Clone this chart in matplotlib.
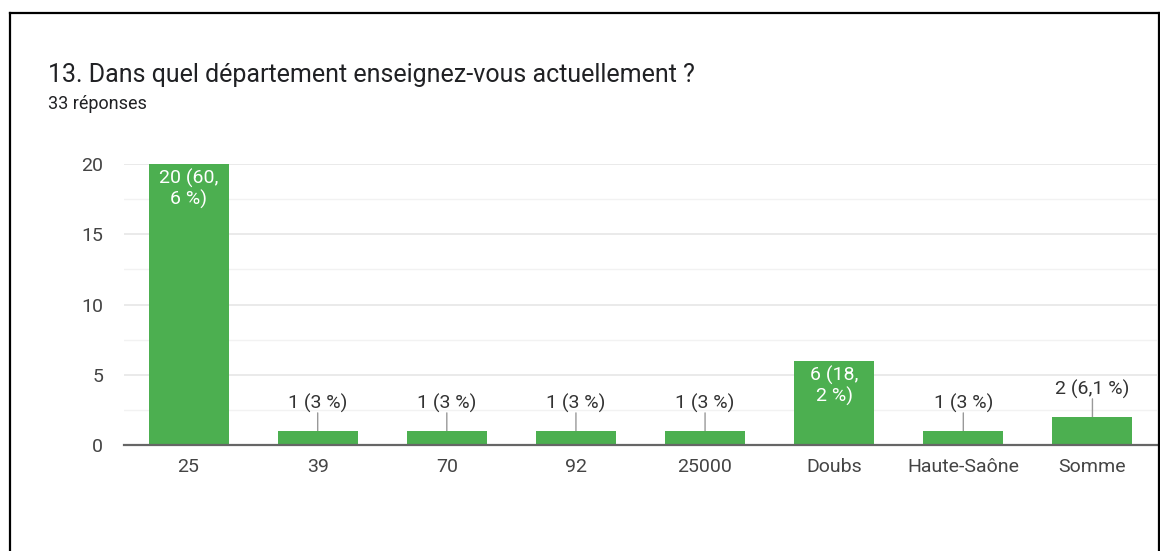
import numpy as np
import matplotlib.pyplot as plt
from matplotlib.lines import Line2D

plt.rcParams['font.family'] = ['Roboto', 'DejaVu Sans']

# données
categories = ["25", "39", "70", "92", "25000", "Doubs", "Haute-Saône", "Somme"]
values = [20, 1, 1, 1, 1, 6, 1, 2]
bar_labels = ["20 (60,\n6 %)", "1 (3 %)", "1 (3 %)", "1 (3 %)", "1 (3 %)",
              "6 (18,\n2 %)", "1 (3 %)", "2 (6,1 %)"]

title = "13. Dans quel département enseignez-vous actuellement ?"
subtitle = "33 réponses"

green = "#4caf50"

fig = plt.figure(figsize=(11.6, 5.51), dpi=100)
ax = fig.add_axes([124 / 1160, 106 / 551, 1033 / 1160, 281 / 551])

x = np.arange(len(categories))
ax.bar(x, values, width=0.62, color=green, zorder=3)

ax.set_xlim(-0.5, len(categories) - 0.5)
ax.set_ylim(0, 20)
ax.set_yticks([0, 5, 10, 15, 20])
ax.set_yticks([2.5, 7.5, 12.5, 17.5], minor=True)
ax.set_xticks(x)
ax.set_xticklabels(categories)

ax.grid(axis='y', which='major', color='#e6e6e6', linewidth=1.2, zorder=0)
ax.grid(axis='y', which='minor', color='#f2f2f2', linewidth=1.0, zorder=0)
for s in ['top', 'right', 'left']:
    ax.spines[s].set_visible(False)
ax.spines['bottom'].set_color('#666666')
ax.spines['bottom'].set_linewidth(1.6)
ax.spines['bottom'].set_zorder(4)

ax.tick_params(axis='both', which='both', length=0, labelsize=14, colors='#444444')
ax.tick_params(axis='y', pad=15)
ax.tick_params(axis='x', pad=9)

# étiquettes des barres
for xi, v, lab in zip(x, values, bar_labels):
    if v >= 5:
        ax.annotate(lab, (xi, v), xytext=(0, -3.5), textcoords='offset points',
                    ha='center', va='top', color='white', fontsize=14,
                    linespacing=1.15, zorder=5)
    else:
        ax.annotate(lab, (xi, v), xytext=(0, 19.5), textcoords='offset points',
                    ha='center', va='center', color='#333333', fontsize=14,
                    zorder=5)
        ax.annotate('', xy=(xi, v), xytext=(0, 13), textcoords='offset points',
                    arrowprops=dict(arrowstyle='-', color='#999999', lw=1.0,
                                    shrinkA=0, shrinkB=0), zorder=2)

fig.text(48 / 1160, 1 - 75 / 551, title, fontsize=18, color='#202124',
         ha='left', va='center')
fig.text(48 / 1160, 1 - 104 / 551, subtitle, fontsize=13, color='#202124',
         ha='left', va='center')

# cadre
lw = 1.6
fig.add_artist(Line2D([10 / 1160, 10 / 1160], [0, 1 - 13 / 551], color='black', lw=lw))
fig.add_artist(Line2D([10 / 1160, 1158.5 / 1160], [1 - 13 / 551, 1 - 13 / 551], color='black', lw=lw))
fig.add_artist(Line2D([1158.5 / 1160, 1158.5 / 1160], [0, 1 - 13 / 551], color='black', lw=lw))

fig.savefig("out.png", dpi=100, facecolor='white')
